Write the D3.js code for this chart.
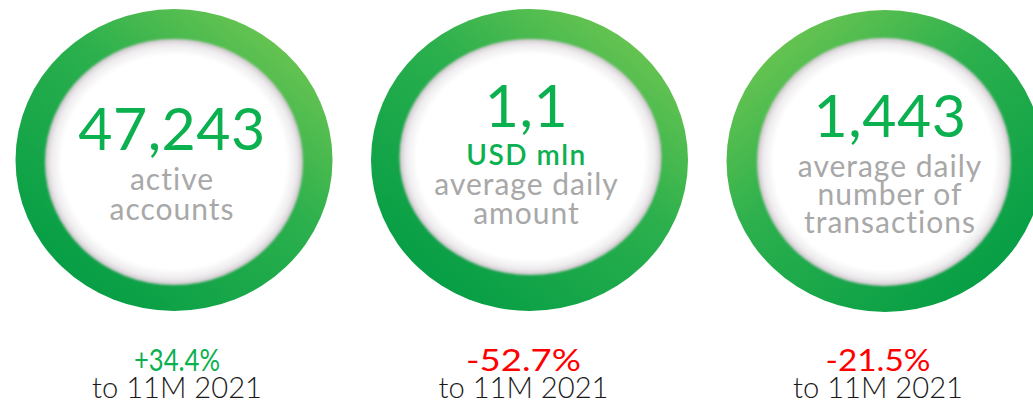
<!DOCTYPE html>
<html>
<head>
<meta charset="utf-8">
<script src="https://cdn.jsdelivr.net/npm/d3@7"></script>
<style>
  html, body { margin: 0; padding: 0; background: #fff; }
  svg { display: block; }
</style>
</head>
<body>
<div id="chart"></div>
<script>
(function(){

// --- data ---
var categories = ["accounts", "amount", "transactions"];
var values = ["47,243", "1,1", "1,443"];
var units = ["", "USD mln", ""];
var labels = [
	["active", "accounts"],
	["average daily", "amount"],
	["average daily", "number of", "transactions"]
];
var changes = ["+34.4%", "-52.7%", "-21.5%"];
var period = "to 11M 2021";

var WIDTH = 1033, HEIGHT = 405;
var GREEN = "#0bb04f";
var GREY = "#a8a8a8";
var RED = "#ff0000";
var FONT = "Lato, 'Open Sans', sans-serif";

var svg = d3.select("#chart").append("svg")
	.attr("width", WIDTH)
	.attr("height", HEIGHT);

var x = d3.scalePoint()
	.domain(categories)
	.range([174, 885]);

// ring gradient direction per circle (light -> dark)
var ringDirs = [
	{x1: "85%", y1: "8%", x2: "15%", y2: "92%"},
	{x1: "85%", y1: "8%", x2: "15%", y2: "92%"},
	{x1: "15%", y1: "8%", x2: "85%", y2: "92%"}
];

var defs = svg.append("defs");

ringDirs.forEach(function(d, i) {
	var g = defs.append("linearGradient")
		.attr("id", "ring" + i)
		.attr("x1", d.x1).attr("y1", d.y1)
		.attr("x2", d.x2).attr("y2", d.y2);
	g.append("stop").attr("offset", "0%").attr("stop-color", "#6bc551");
	g.append("stop").attr("offset", "40%").attr("stop-color", "#2cb04d");
	g.append("stop").attr("offset", "100%").attr("stop-color", "#049d45");
});

var inner = defs.append("radialGradient").attr("id", "inner");
inner.append("stop").attr("offset", "0%").attr("stop-color", "#ffffff");
inner.append("stop").attr("offset", "87%").attr("stop-color", "#ffffff");
inner.append("stop").attr("offset", "95%").attr("stop-color", "#eeecee");
inner.append("stop").attr("offset", "100%").attr("stop-color", "#cfc7cc");

defs.append("filter").attr("id", "soft")
	.append("feGaussianBlur").attr("stdDeviation", 1.2);

// small per-circle geometry tweaks
var outerY = [160, 160, 161];
var innerShift = [{dx: 0, dy: 2}, {dx: 1, dy: -3}, {dx: -1, dy: 1}];
var innerR = [{rx: 129, ry: 123}, {rx: 131, ry: 118}, {rx: 127, ry: 124}];
var textDx = [-2, -3, 5];

var groups = svg.selectAll("g.kpi")
	.data(categories)
	.enter().append("g")
	.attr("class", "kpi");

groups.append("ellipse")
	.attr("cx", function(d) { return x(d); })
	.attr("cy", function(d, i) { return outerY[i]; })
	.attr("rx", 158.5)
	.attr("ry", 151)
	.attr("fill", function(d, i) { return "url(#ring" + i + ")"; });

groups.append("ellipse")
	.attr("cx", function(d, i) { return x(d) + innerShift[i].dx; })
	.attr("cy", function(d, i) { return outerY[i] + innerShift[i].dy; })
	.attr("rx", function(d, i) { return innerR[i].rx; })
	.attr("ry", function(d, i) { return innerR[i].ry; })
	.attr("fill", "url(#inner)")
	.attr("filter", "url(#soft)");

// text inside circles
var valueY = [150, 127, 137];
var unitY = [0, 165, 0];
var labelY = [[190, 220], [195, 224], [177, 205, 233]];

groups.append("text")
	.attr("x", function(d, i) { return x(d) + textDx[i]; })
	.attr("y", function(d, i) { return valueY[i]; })
	.attr("text-anchor", "middle")
	.attr("fill", GREEN)
	.style("font-family", FONT)
	.style("font-weight", 400)
	.style("font-size", "59px")
	.style("letter-spacing", "0.5px")
	.text(function(d, i) { return values[i]; });

groups.filter(function(d, i) { return units[i] !== ""; })
	.append("text")
	.attr("x", function(d) { var i = categories.indexOf(d); return x(d) + textDx[i]; })
	.attr("y", function(d) { return unitY[categories.indexOf(d)]; })
	.attr("text-anchor", "middle")
	.attr("fill", GREEN)
	.style("font-family", FONT)
	.style("font-weight", 600)
	.style("font-size", "28px")
	.style("letter-spacing", "1.5px")
	.text(function(d) { return units[categories.indexOf(d)]; });

groups.each(function(d, i) {
	d3.select(this).selectAll("text.label")
		.data(labels[i])
		.enter().append("text")
		.attr("class", "label")
		.attr("x", x(d) + textDx[i])
		.attr("y", function(t, j) { return labelY[i][j]; })
		.attr("text-anchor", "middle")
		.attr("fill", GREY)
		.style("font-family", FONT)
		.style("font-weight", 400)
		.style("font-size", "30px")
		.style("letter-spacing", "1px")
		.text(function(t) { return t; });
});

// change under each circle
var changeDx = [3, -6, -7];

groups.append("text")
	.attr("x", function(d, i) { return x(d) + changeDx[i]; })
	.attr("y", 371)
	.attr("text-anchor", "middle")
	.attr("fill", function(d, i) { return changes[i].charAt(0) === "+" ? GREEN : RED; })
	.style("font-family", FONT)
	.style("font-weight", 400)
	.style("font-size", "30px")
	.attr("textLength", function(d, i) { return i === 0 ? 86 : (i === 1 ? 115 : 105); })
	.attr("lengthAdjust", "spacingAndGlyphs")
	.text(function(d, i) { return changes[i]; });

groups.append("text")
	.attr("x", function(d, i) { return x(d) + changeDx[i]; })
	.attr("y", 398)
	.attr("text-anchor", "middle")
	.attr("fill", "#1a1a1a")
	.style("font-family", FONT)
	.style("font-weight", 300)
	.style("font-size", "30px")
	.attr("textLength", 170)
	.attr("lengthAdjust", "spacingAndGlyphs")
	.text(period);

})();
</script>
</body>
</html>
